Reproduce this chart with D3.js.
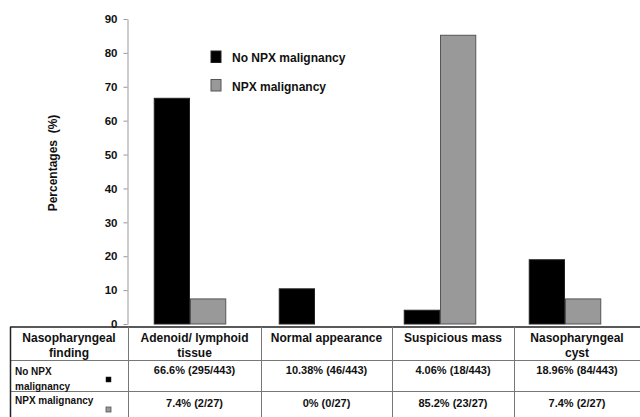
<!DOCTYPE html>
<html><head><meta charset="utf-8">
<script src="https://cdn.jsdelivr.net/npm/d3@7"></script>
<style>body{margin:0;background:#fff}svg{display:block;font-family:"Liberation Sans",Arial,sans-serif;font-weight:bold}</style>
</head><body>
<script>
const categories = ["Adenoid/ lymphoid tissue","Normal appearance","Suspicious mass","Nasopharyngeal cyst"];
const headerLines = [["Adenoid/ lymphoid","tissue"],["Normal appearance"],["Suspicious mass"],["Nasopharyngeal","cyst"]];
const seriesNames = ["No NPX malignancy","NPX malignancy"];
const noNpx = [66.6, 10.38, 4.06, 18.96];
const npx = [7.4, 0, 85.2, 7.4];
const noNpxText = ["66.6% (295/443)","10.38% (46/443)","4.06% (18/443)","18.96% (84/443)"];
const npxText = ["7.4% (2/27)","0% (0/27)","85.2% (23/27)","7.4% (2/27)"];
const yTicks = [0,10,20,30,40,50,60,70,80,90];

const W=640,H=417;
const svg=d3.select("body").append("svg").attr("width",W).attr("height",H);
const colors=["#000000","#999999"], strokes=["#222","#555"];

const y=d3.scaleLinear().domain([0,90]).range([324,19]);
const x0=d3.scaleBand().domain(categories).range([127.5,627.5]).paddingInner(0.42).paddingOuter(0.21);
const x1=d3.scaleBand().domain(seriesNames).range([0,x0.bandwidth()]);

// y axis
const ax=svg.append("g").attr("transform","translate(127.5,0)")
  .call(d3.axisLeft(y).tickValues(yTicks).tickSize(4).tickSizeOuter(0).tickPadding(6));
ax.select(".domain").attr("stroke","#999");
ax.selectAll(".tick line").attr("stroke","#999");
ax.selectAll(".tick text").attr("font-size","11.5px").attr("font-weight","bold").attr("fill","#111")
  .attr("font-family","Liberation Sans, Arial, sans-serif");

svg.append("text").attr("transform","translate(57,163) rotate(-90)").attr("text-anchor","middle")
  .attr("font-size","12px").attr("fill","#111").attr("xml:space","preserve").text("Percentages  (%)");

// bars
const data=categories.map((c,i)=>({c,vals:[noNpx[i],npx[i]]}));
const g=svg.append("g").selectAll("g").data(data).join("g").attr("transform",d=>`translate(${x0(d.c)},0)`);
g.selectAll("rect").data(d=>d.vals.map((v,j)=>({v,j}))).join("rect")
  .filter(d=>d.v>0)
  .attr("x",d=>x1(seriesNames[d.j])+0.5).attr("width",x1.bandwidth()-1)
  .attr("y",d=>y(d.v)).attr("height",d=>y(0)-y(d.v))
  .attr("fill",d=>colors[d.j]).attr("stroke",d=>strokes[d.j]).attr("stroke-width",1);

// legend
const leg=svg.append("g");
seriesNames.forEach((s,j)=>{
  leg.append("rect").attr("x",211).attr("y",51+j*28.5).attr("width",10).attr("height",11.5)
    .attr("fill",colors[j]).attr("stroke",strokes[j]);
  leg.append("text").attr("x",232).attr("y",62+j*28.5).attr("font-size","12px").attr("fill","#111").text(s);
});

// table
const colX=[10,128,261,392,514,640];
const rowY=[327,360.5,391.5,417];
const t=svg.append("g");
t.append("line").attr("x1",10).attr("x2",640).attr("y1",rowY[0]).attr("y2",rowY[0]).attr("stroke","#222").attr("stroke-width",1.5);
[1,2].forEach(r=>t.append("line").attr("x1",10).attr("x2",640).attr("y1",rowY[r]).attr("y2",rowY[r]).attr("stroke","#777"));
t.append("line").attr("x1",10.5).attr("x2",10.5).attr("y1",rowY[0]).attr("y2",H).attr("stroke","#222").attr("stroke-width",1.5);
colX.slice(1,5).forEach(cx=>t.append("line").attr("x1",cx+0.5).attr("x2",cx+0.5).attr("y1",rowY[0]).attr("y2",H).attr("stroke","#777"));

// header
const hdr=[["Nasopharyngeal","finding"]].concat(headerLines);
hdr.forEach((lines,i)=>{
  const cx=(colX[i]+colX[i+1])/2;
  lines.forEach((l,k)=>t.append("text").attr("x",cx).attr("y",341.5+k*15).attr("text-anchor","middle")
    .attr("font-size","12px").attr("fill","#111").text(l));
});
// row labels
t.append("text").attr("x",15).attr("y",375).attr("font-size","10px").attr("fill","#111").text("No NPX");
t.append("text").attr("x",15).attr("y",390).attr("font-size","10px").attr("fill","#111").text("malignancy");
t.append("text").attr("x",15).attr("y",404).attr("font-size","10px").attr("fill","#111").text("NPX malignancy");
t.append("rect").attr("x",106).attr("y",377).attr("width",5).attr("height",5).attr("fill",colors[0]).attr("stroke",strokes[0]).attr("stroke-width",0.5);
t.append("rect").attr("x",106).attr("y",407).attr("width",5).attr("height",5).attr("fill",colors[1]).attr("stroke",strokes[1]).attr("stroke-width",0.8);
// values
[noNpxText,npxText].forEach((arr,r)=>{
  arr.forEach((s,i)=>{
    const cx=(colX[i+1]+colX[i+2])/2;
    t.append("text").attr("x",cx).attr("y",r===0?374:407).attr("text-anchor","middle")
      .attr("font-size","11px").attr("fill","#111").text(s);
  });
});
</script>
</body></html>
